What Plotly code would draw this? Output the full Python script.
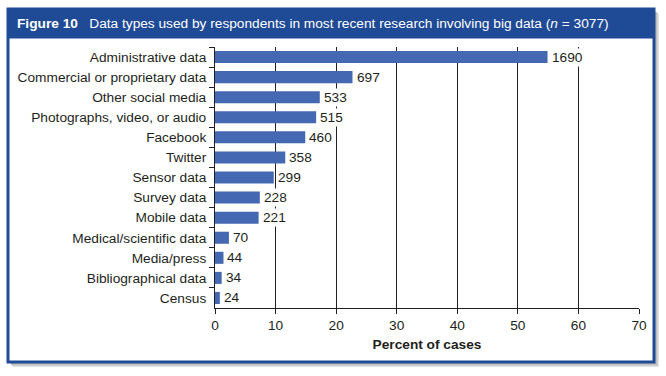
import plotly.graph_objects as go

categories = [
    "Administrative data",
    "Commercial or proprietary data",
    "Other social media",
    "Photographs, video, or audio",
    "Facebook",
    "Twitter",
    "Sensor data",
    "Survey data",
    "Mobile data",
    "Medical/scientific data",
    "Media/press",
    "Bibliographical data",
    "Census",
]
percent_values = [54.9, 22.7, 17.3, 16.7, 14.9, 11.6, 9.7, 7.4, 7.2, 2.3, 1.4, 1.1, 0.8]
count_labels = [1690, 697, 533, 515, 460, 358, 299, 228, 221, 70, 44, 34, 24]
x_ticks = [0, 10, 20, 30, 40, 50, 60, 70]

W, H = 666, 376
PL, PR, PT, PB = 215, 639, 47, 308  # plot area in pixels

def px(x):
    return (x - PL) / (PR - PL)

def py(y):
    return (PB - y) / (PB - PT)

BLUE = "#1f4a96"
BAR = "#4468b1"
TXT = "#231f20"
FONT = "Liberation Sans, Arial, Helvetica, sans-serif"
FS = 13.7

fig = go.Figure()
fig.add_trace(go.Bar(
    x=percent_values,
    y=categories,
    orientation="h",
    marker=dict(color=BAR, line=dict(width=0)),
    hoverinfo="skip",
))

shapes = []
# soft shadow
for off, col in [(5, "#e2e2e2"), (4, "#d0d0d0"), (3, "#bdbdbd")]:
    shapes.append(dict(type="rect", xref="paper", yref="paper", layer="below",
                       x0=px(8 + off), x1=px(654 + off), y0=py(9 + off), y1=py(362 + off),
                       fillcolor=col, line=dict(width=0)))
# white frame with blue border
shapes.append(dict(type="rect", xref="paper", yref="paper", layer="below",
                   x0=px(8), x1=px(654), y0=py(9), y1=py(362),
                   fillcolor="white", line=dict(color=BLUE, width=3)))
# header bar
shapes.append(dict(type="rect", xref="paper", yref="paper", layer="below",
                   x0=px(8), x1=px(654), y0=py(9), y1=py(38),
                   fillcolor=BLUE, line=dict(color=BLUE, width=1)))

annotations = [dict(
    xref="paper", yref="paper", x=px(15), y=py(23.5), xanchor="left", yanchor="middle",
    showarrow=False,
    text="<b>Figure 10</b>   Data types used by respondents in most recent research involving big data (<i>n</i> = 3077)",
    font=dict(family=FONT, size=FS, color="white"),
)]
for v, c, lab in zip(percent_values, categories, count_labels):
    annotations.append(dict(
        x=v, y=c, xref="x", yref="y", xanchor="left", yanchor="middle",
        xshift=2, showarrow=False, text=str(lab), bgcolor="white", borderpad=1,
        font=dict(family=FONT, size=FS, color=TXT),
    ))

fig.update_layout(
    width=W, height=H,
    margin=dict(l=PL, r=W - PR, t=PT, b=H - PB),
    paper_bgcolor="white",
    plot_bgcolor="rgba(0,0,0,0)",
    showlegend=False,
    bargap=0.4,
    font=dict(family=FONT, size=FS, color=TXT),
    shapes=shapes,
    annotations=annotations,
    xaxis=dict(
        range=[0, 70], tickvals=x_ticks, ticktext=[str(t) for t in x_ticks],
        showgrid=True, gridcolor="#231f20", gridwidth=1,
        showline=True, linecolor="#231f20", linewidth=1,
        ticks="outside", ticklen=5, tickcolor="#231f20",
        zeroline=False,
        tickfont=dict(family=FONT, size=FS, color=TXT),
        title=dict(text="<b>Percent of cases</b>", standoff=6,
                   font=dict(family=FONT, size=FS, color=TXT)),
        fixedrange=True,
    ),
    yaxis=dict(
        autorange="reversed",
        showline=True, linecolor="#231f20", linewidth=1,
        ticks="outside", ticklen=5, tickcolor="#231f20", tickson="boundaries",
        ticklabelstandoff=5,
        showgrid=False, zeroline=False,
        tickfont=dict(family=FONT, size=FS, color=TXT),
        fixedrange=True,
    ),
)

fig.write_html("out.html", config={"displayModeBar": False},
               post_script="document.body.style.margin='0';document.body.style.overflow='hidden';")
